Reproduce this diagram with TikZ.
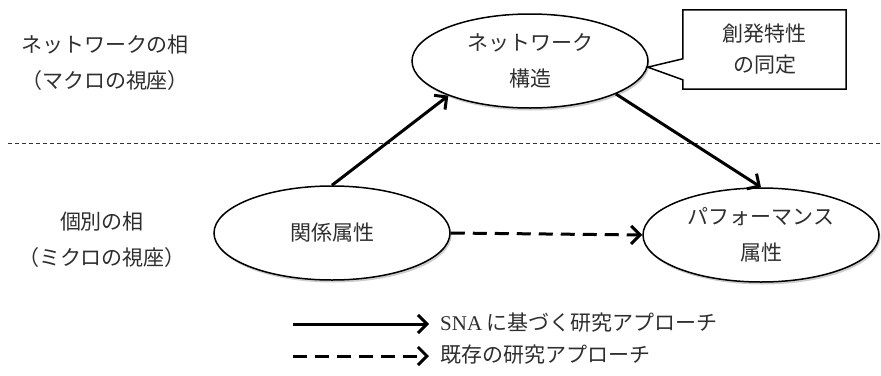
\documentclass[tikz,border=0pt]{standalone}
\usepackage{fontspec}
\newfontfamily\jp{Noto Sans CJK JP}
\newfontfamily\lat{Liberation Serif}
\usetikzlibrary{arrows.meta,shapes.geometric,shadows,calc}
\begin{document}
\begin{tikzpicture}[x=1pt,y=-1pt,
  txt/.style={font=\jp\fontsize{21}{36}\selectfont, text=black!82, align=center, inner sep=0pt},
  oval/.style={ellipse, draw=black, line width=1.5pt, fill=white, minimum width=236pt, minimum height=94pt, inner sep=0pt,
    drop shadow={shadow xshift=1.5pt, shadow yshift=-2.5pt, opacity=.28, fill=black!70},
    font=\jp\fontsize{21}{36}\selectfont, text=black!82, align=center},
  flow/.style={line width=3pt, -{Straight Barb[length=9pt,width=18pt]}},
  dflow/.style={flow, dash pattern=on 14pt off 8pt},
  sep/.style={line width=0.8pt, dash pattern=on 4pt off 3pt, black!80}
]
\useasboundingbox (0,0) rectangle (881,375);

% separator
\coordinate (sepL) at (8,143);
\coordinate (sepR) at (881,143);
\draw[sep] (sepL) -- (sepR);

% side labels
\node[txt] (macro) at (105,63) {ネットワークの相\\（マクロの視座）};
\node[txt] (micro) at (102,240) {個別の相\\（ミクロの視座）};

% ellipses
\node[oval] (net) at (530,61) {ネットワーク\\構造};
\node[oval] (rel) at (332,233) {関係属性};
\node[oval] (perf) at (761,235) {パフォーマンス\\属性};

% callout
\node[txt, font=\jp\fontsize{21}{31}\selectfont, minimum width=163pt, minimum height=79pt] (cb) at (764.5,49.5) {創発特性\\の同定};
\coordinate (tip) at (net.-3);
\draw[line width=1.5pt, line join=miter]
  (cb.north west) -- ($(cb.north west)+(0,49)$) -- (tip) -- ($(cb.north west)+(0,70)$)
  -- (cb.south west) -- (cb.south east) -- (cb.north east) -- cycle;

% connectors
\draw[flow] (rel.north) -- (net.203);
\draw[flow] (net.-21) -- (perf.north);
\draw[dflow] (rel.east) -- (perf.west);

% legend
\coordinate (l1a) at (293,324);
\coordinate (l1b) at (429,324);
\coordinate (l2a) at (293,356);
\coordinate (l2b) at (429,356);
\draw[flow] (l1a) -- (l1b);
\draw[dflow] (l2a) -- (l2b);
\node[txt, anchor=west] (t1) at (440,323) {{\lat SNA} に基づく研究アプローチ};
\node[txt, anchor=west] (t2) at (440,355) {既存の研究アプローチ};
\end{tikzpicture}
\end{document}
